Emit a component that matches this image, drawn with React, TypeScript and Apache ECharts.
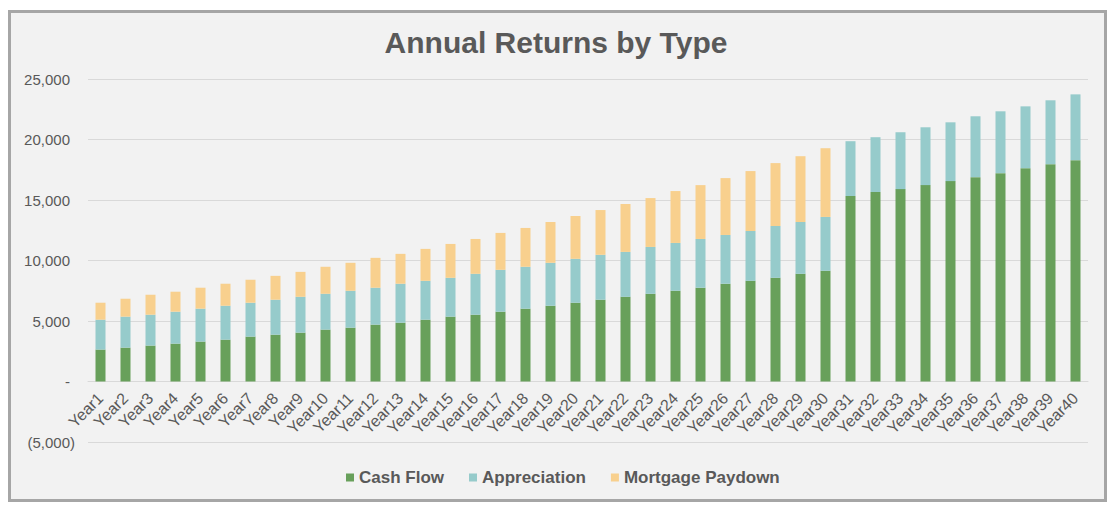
import React, { useEffect, useRef } from "react";
import * as echarts from "echarts";

const categories = [
  "Year1", "Year2", "Year3", "Year4", "Year5", "Year6", "Year7", "Year8", "Year9", "Year10",
  "Year11", "Year12", "Year13", "Year14", "Year15", "Year16", "Year17", "Year18", "Year19", "Year20",
  "Year21", "Year22", "Year23", "Year24", "Year25", "Year26", "Year27", "Year28", "Year29", "Year30",
  "Year31", "Year32", "Year33", "Year34", "Year35", "Year36", "Year37", "Year38", "Year39", "Year40",
];

const cashFlow = [
  2640, 2800, 2970, 3130, 3300, 3460, 3710, 3870, 4040, 4290,
  4450, 4700, 4860, 5110, 5360, 5520, 5770, 6020, 6260, 6510,
  6760, 7000, 7250, 7500, 7750, 8080, 8320, 8570, 8900, 9150,
  15330, 15660, 15900, 16230, 16560, 16890, 17220, 17630, 17960, 18290,
];

const appreciation = [
  2470, 2560, 2550, 2640, 2720, 2800, 2800, 2890, 2960, 2960,
  3050, 3050, 3220, 3210, 3210, 3380, 3460, 3460, 3550, 3630,
  3710, 3710, 3870, 3950, 4030, 4030, 4120, 4280, 4280, 4450,
  4530, 4530, 4700, 4780, 4860, 5030, 5110, 5110, 5280, 5440,
];

const mortgagePaydown = [
  1400, 1480, 1650, 1650, 1730, 1820, 1900, 1970, 2060, 2230,
  2310, 2470, 2470, 2640, 2800, 2880, 3050, 3210, 3370, 3540,
  3700, 3960, 4040, 4290, 4450, 4700, 4950, 5200, 5440, 5680,
  0, 0, 0, 0, 0, 0, 0, 0, 0, 0,
];

const seriesNames = ["Cash Flow", "Appreciation", "Mortgage Paydown"];
const seriesColors = ["#68A05B", "#96CBCB", "#F8D08E"];

const TEXT = "#595959";
const FONT = "'Liberation Sans', Arial, sans-serif";

const Y_MIN = -5000;
const Y_MAX = 25000;
const GRID_TOP = 79;
const GRID_BOTTOM = 68;
const CHART_H = 510;

function fmt(v: number): string {
  if (v === 0) return "{p|-}";
  const s = Math.abs(v).toLocaleString("en-US");
  return v < 0 ? "{n|(" + s + ")}" : "{p|" + s + "}";
}

export default function App() {
  const ref = useRef<HTMLDivElement>(null);

  useEffect(() => {
    if (!ref.current) return;
    const chart = echarts.init(ref.current, null, { renderer: "svg" });
    const data = [cashFlow, appreciation, mortgagePaydown];
    const plotH = CHART_H - GRID_TOP - GRID_BOTTOM;
    const zeroFromBottom = (plotH * (0 - Y_MIN)) / (Y_MAX - Y_MIN);
    chart.setOption({
      animation: false,
      backgroundColor: "transparent",
      textStyle: { fontFamily: FONT },
      title: {
        text: "Annual Returns by Type",
        left: "center",
        top: 22,
        textStyle: { fontFamily: FONT, fontSize: 30, fontWeight: "bold", color: TEXT },
      },
      legend: {
        data: seriesNames,
        left: 341,
        top: 464,
        itemWidth: 8,
        itemHeight: 8,
        itemGap: 25,
        icon: "rect",
        textStyle: { fontFamily: FONT, fontSize: 17, fontWeight: "bold", color: TEXT },
      },
      grid: {
        left: 88,
        right: 24,
        top: GRID_TOP,
        bottom: GRID_BOTTOM,
        containLabel: false,
        outerBoundsMode: "none",
      },
      xAxis: {
        type: "category",
        data: categories,
        offset: -zeroFromBottom,
        axisLine: { show: true, onZero: false, lineStyle: { color: "#D9D9D9", width: 1 } },
        axisTick: { show: false },
        axisLabel: {
          rotate: 45,
          interval: 0,
          margin: 14,
          fontFamily: FONT,
          fontSize: 16,
          color: TEXT,
        },
      },
      yAxis: {
        type: "value",
        min: Y_MIN,
        max: Y_MAX,
        interval: 5000,
        axisLine: { show: false },
        axisTick: { show: false },
        splitLine: { show: true, lineStyle: { color: "#D9D9D9", width: 1 } },
        axisLabel: {
          margin: 13,
          formatter: (v: number) => fmt(v),
          rich: {
            p: { fontFamily: FONT, fontSize: 15, color: TEXT, padding: [0, 5, 0, 0] },
            n: { fontFamily: FONT, fontSize: 15, color: TEXT },
          },
        },
      },
      series: seriesNames.map((name, i) => ({
        name,
        type: "bar",
        stack: "total",
        barWidth: 10,
        legendIcon: "rect",
        data: data[i],
        itemStyle: { color: seriesColors[i] },
        emphasis: { disabled: true },
      })),
    });
    return () => chart.dispose();
  }, []);

  return (
    <div style={{ position: "fixed", left: 0, top: 0, width: 1112, height: 510, background: "#ffffff" }}>
      <div
        style={{
          position: "absolute",
          left: 8,
          top: 10,
          width: 1099,
          height: 492,
          boxSizing: "border-box",
          border: "3px solid #A6A6A6",
          background: "#F2F2F2",
        }}
      />
      <div ref={ref} style={{ position: "absolute", left: 0, top: 0, width: 1112, height: 510 }} />
    </div>
  );
}
